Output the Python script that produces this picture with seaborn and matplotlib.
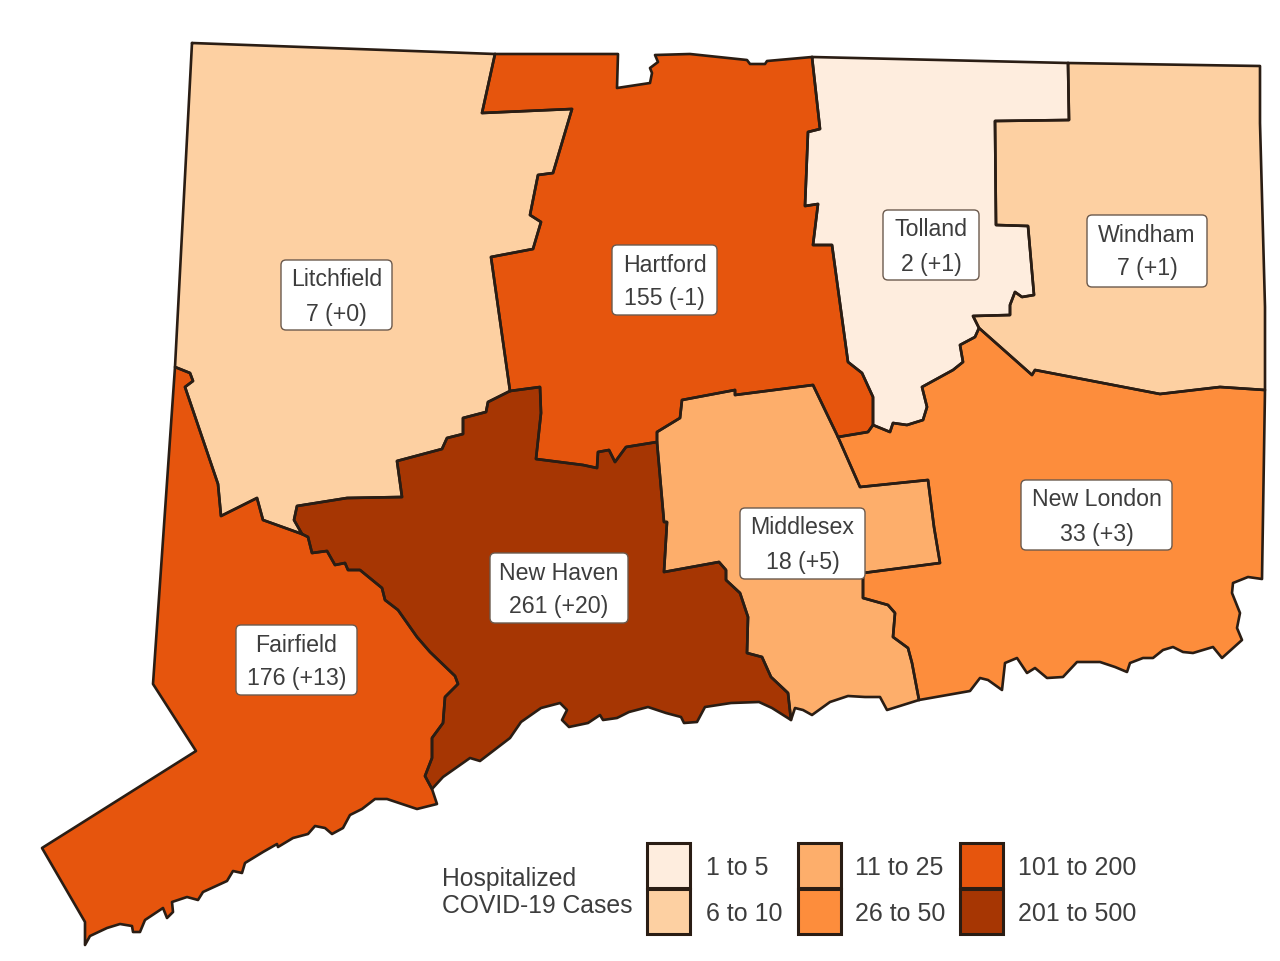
import numpy as np
import pandas as pd
import seaborn as sns
import matplotlib
matplotlib.use("Agg")
import matplotlib.pyplot as plt
from matplotlib.patches import FancyBboxPatch, Rectangle

# ---- values ----
counties = ["Litchfield", "Hartford", "Tolland", "Windham", "New London", "Middlesex", "New Haven", "Fairfield"]
cases = [7, 155, 2, 7, 33, 18, 261, 176]
changes = ["+0", "-1", "+1", "+1", "+3", "+5", "+20", "+13"]
bin_edges = [0, 5, 10, 25, 50, 200, 500]
bin_labels = ["1 to 5", "6 to 10", "11 to 25", "26 to 50", "101 to 200", "201 to 500"]
legend_title = "Hospitalized\nCOVID-19 Cases"

lit_top = [(192, 43), (495, 54)]
hart_lit = [(495, 54), (482, 113), (572, 109), (553, 173), (538, 175), (530, 215), (541, 222), (533, 249),
            (491, 257), (510, 391)]
nh_lit = [(510, 391), (488, 402), (486, 412), (463, 418), (463, 434), (447, 438), (442, 449), (397, 461),
          (402, 497), (347, 498), (297, 506), (294, 520), (302, 534)]
fair_lit = [(302, 534), (263, 520), (257, 498), (221, 516), (218, 484), (185, 387), (193, 381), (190, 373),
            (175, 367)]
fair_west = [(175, 367), (153, 684), (196, 751), (42, 848), (85, 922), (85, 945)]
fair_coast = [(85, 945), (90, 936), (107, 928), (120, 924), (132, 926), (133, 932), (140, 932), (145, 920),
              (163, 908), (167, 918), (173, 912), (172, 902), (187, 897), (198, 900), (203, 892), (227, 881),
              (233, 871), (242, 873), (245, 863), (263, 852), (277, 844), (278, 847), (293, 838), (308, 834),
              (315, 826), (325, 828), (332, 834), (343, 828), (350, 815), (362, 809), (375, 799), (387, 799),
              (417, 809), (437, 804), (432, 789)]
fair_nh = [(432, 789), (425, 776), (432, 758), (432, 738), (443, 723), (445, 697), (458, 684), (455, 676),
           (430, 652), (417, 637), (398, 610), (385, 600), (382, 588), (360, 570), (348, 570), (345, 563),
           (335, 565), (327, 551), (312, 553), (308, 537), (302, 534)]
nh_coast = [(432, 789), (443, 777), (470, 758), (480, 761), (510, 738), (521, 722), (541, 708), (560, 703),
            (567, 710), (562, 720), (569, 727), (588, 723), (600, 715), (603, 720), (617, 718), (629, 712),
            (648, 707), (666, 713), (681, 717), (684, 723), (697, 722), (705, 707), (731, 703), (759, 702),
            (772, 708), (791, 720)]
mid_nh = [(657, 442), (664, 522), (667, 522), (664, 572), (719, 562), (726, 570), (726, 580), (740, 593),
          (748, 617), (747, 653), (762, 657), (771, 677), (788, 693), (791, 720)]
hart_nh = [(657, 442), (626, 447), (615, 462), (609, 450), (598, 452), (597, 468), (583, 465), (536, 459),
           (541, 413), (540, 387), (510, 391)]
hart_top = [(495, 54), (618, 54), (617, 88), (650, 83), (652, 73), (650, 68), (658, 62), (655, 55), (690, 54),
            (747, 60), (750, 64), (765, 64), (767, 61), (812, 57)]
hart_tol = [(812, 57), (820, 129), (808, 132), (805, 206), (818, 204), (813, 245), (832, 245), (848, 362),
            (862, 373), (873, 397), (873, 425)]
hart_nl = [(873, 425), (868, 432), (838, 437)]
hart_mid = [(838, 437), (813, 385), (735, 395), (735, 390), (682, 400), (680, 418), (657, 432), (657, 442)]
mid_nl = [(838, 437), (860, 487), (928, 480), (934, 527), (940, 563), (863, 573), (863, 598), (888, 605),
          (895, 613), (893, 637), (908, 648), (912, 663), (919, 700)]
mid_coast = [(791, 720), (795, 708), (803, 710), (812, 715), (830, 702), (848, 696), (865, 697), (880, 697),
             (887, 710), (919, 700)]
nl_coast = [(919, 700), (970, 691), (980, 678), (988, 680), (1002, 690), (1005, 663), (1017, 658), (1027, 673),
            (1035, 668), (1047, 678), (1063, 677), (1077, 662), (1100, 662), (1115, 667), (1127, 672), (1130, 663),
            (1143, 658), (1153, 658), (1163, 650), (1173, 647), (1183, 652), (1193, 653), (1213, 647), (1222, 658),
            (1242, 640), (1237, 628), (1240, 613), (1232, 593), (1233, 583), (1248, 577), (1262, 579), (1265, 390)]
win_nl = [(1265, 390), (1220, 387), (1160, 394), (1035, 370), (1032, 375), (979, 328)]
tol_nl = [(979, 328), (975, 337), (960, 345), (963, 362), (953, 370), (922, 387), (927, 407), (923, 420),
          (907, 425), (893, 423), (890, 432), (873, 425)]
tol_top = [(812, 57), (1068, 63)]
tol_win = [(1068, 63), (1069, 120), (995, 121), (996, 225), (1028, 226), (1034, 295), (1022, 297), (1015, 292),
           (1010, 305), (1010, 315), (973, 316), (979, 328)]
win_east = [(1068, 63), (1260, 66), (1260, 123), (1265, 307), (1265, 390)]

rev = lambda s: s[::-1]
outlines = {
    "Litchfield": lit_top + hart_lit + nh_lit + fair_lit,
    "Hartford": hart_top + hart_tol + hart_nl + hart_mid + hart_nh + rev(hart_lit),
    "Tolland": tol_top + tol_win + tol_nl + rev(hart_tol),
    "Windham": win_east + win_nl + rev(tol_win),
    "New London": nl_coast + win_nl + tol_nl + hart_nl + mid_nl,
    "Middlesex": hart_mid + mid_nh + mid_coast + rev(mid_nl),
    "New Haven": rev(hart_nh) + mid_nh + rev(nh_coast) + fair_nh + rev(nh_lit),
    "Fairfield": fair_lit + fair_west + fair_coast + fair_nh,
}

# ---- styling ----
sns.set_theme(style="white")
plt.rcParams["font.family"] = ["Liberation Sans", "DejaVu Sans"]
palette = sns.color_palette(["#feedde", "#fdd0a2", "#fdae6b", "#fd8d3c", "#e6550d", "#a63603"])
EDGE = "#2a1d14"
TEXT = "#3d3d3d"

df = pd.DataFrame({"county": counties, "cases": cases, "change": changes})
df["bin"] = pd.cut(df["cases"], bins=bin_edges, labels=False)

fig = plt.figure(figsize=(12.8, 9.61), dpi=100)
ax = fig.add_axes([0, 0, 1, 1])

rows = []
for _, r in df.iterrows():
    pts = np.array(outlines[r["county"]] + [outlines[r["county"]][0]], dtype=float)
    ax.fill(pts[:, 0], pts[:, 1], color=palette[int(r["bin"])], lw=0, zorder=1)
    rows.append(pd.DataFrame({"county": r["county"], "x": pts[:, 0], "y": pts[:, 1]}))
long = pd.concat(rows, ignore_index=True)
sns.lineplot(data=long, x="x", y="y", units="county", estimator=None, sort=False, color=EDGE,
             linewidth=1.9, legend=False, ax=ax, zorder=2, solid_joinstyle="round")

# label boxes: left, top, right, bottom in image pixels
boxes = {
    "Litchfield": (281, 260, 392, 330), "Hartford": (612, 245, 717, 315), "Tolland": (883, 210, 979, 280),
    "Windham": (1087, 215, 1207, 287), "New London": (1021, 480, 1172, 550), "Middlesex": (740, 508, 865, 579),
    "New Haven": (490, 553, 628, 623), "Fairfield": (236, 625, 357, 695),
}
for _, r in df.iterrows():
    l, t, rgt, b = boxes[r["county"]]
    ax.add_patch(FancyBboxPatch((l + 4, t + 4), rgt - l - 8, b - t - 8, boxstyle="round,pad=4,rounding_size=5",
                                fc="white", ec="#6b5a4e", lw=1.0, zorder=3))
    cx = (l + rgt) / 2
    ax.text(cx, t + 20, r["county"], ha="center", va="center", fontsize=16.7, color=TEXT, zorder=4)
    ax.text(cx, t + 54, f"{r['cases']} ({r['change']})", ha="center", va="center", fontsize=16.7,
            color=TEXT, zorder=4)

# legend
title_lines = legend_title.split("\n")
ax.text(442, 879, title_lines[0], ha="left", va="center", fontsize=17.8, color=TEXT)
ax.text(442, 906, title_lines[1], ha="left", va="center", fontsize=17.8, color=TEXT)
swatch_x = [647, 647, 798, 798, 960, 960]
swatch_y = [843, 889, 843, 889, 843, 889]
text_x = [706, 706, 855, 855, 1018, 1018]
for i, lab in enumerate(bin_labels):
    ax.add_patch(Rectangle((swatch_x[i], swatch_y[i]), 43, 45, fc=palette[i], ec=EDGE, lw=2.2, zorder=2))
    ax.text(text_x[i], swatch_y[i] + 25, lab, ha="left", va="center", fontsize=18, color=TEXT)

ax.set_xlim(0, 1280)
ax.set_ylim(961, 0)
ax.axis("off")
fig.savefig("out.png", dpi=100, facecolor="white")
